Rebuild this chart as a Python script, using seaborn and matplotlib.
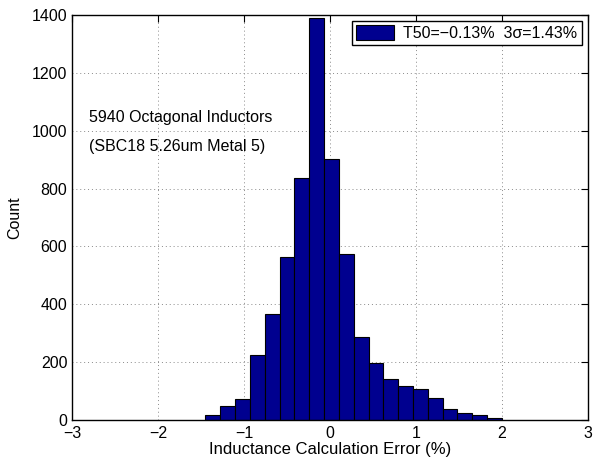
import matplotlib
matplotlib.use("Agg")
import matplotlib.pyplot as plt
import numpy as np
import pandas as pd
import seaborn as sns

# histogram data (20 bins between min and max error)
err_min, err_max, n_bins = -1.45, 2.0, 20
bin_counts = [18, 47, 72, 225, 368, 562, 836, 1388, 902, 575,
              288, 196, 141, 117, 106, 75, 39, 25, 16, 8]
x_ticks = [-3, -2, -1, 0, 1, 2, 3]
y_ticks = [0, 200, 400, 600, 800, 1000, 1200, 1400]
legend_label = "T50=\u22120.13%  3\u03c3=1.43%"
note_lines = ["5940 Octagonal Inductors", "(SBC18 5.26um Metal 5)"]

sns.set_style("white")
plt.rcParams["font.family"] = ["Liberation Sans", "DejaVu Sans"]
plt.rcParams["text.color"] = "black"
plt.rcParams["axes.labelcolor"] = "black"

edges = np.linspace(err_min, err_max, n_bins + 1)
df = pd.DataFrame({
	"err": (edges[:-1] + edges[1:]) / 2,
	"count": bin_counts,
})

fig = plt.figure(figsize=(5.96, 4.61), dpi=100)
ax = fig.add_axes([0.121, 0.089, 0.8655, 0.8785])

sns.histplot(
	data=df,
	x="err",
	weights="count",
	bins=n_bins,
	binrange=(err_min, err_max),
	color="#00008F",
	edgecolor="black",
	linewidth=0.8,
	alpha=1.0,
	label=legend_label,
	ax=ax,
)

ax.set_xlim(-3, 3)
ax.set_ylim(0, 1400)
ax.set_xticks(x_ticks)
ax.set_yticks(y_ticks)
ax.grid(True, linestyle=(0, (1, 3)), color="#8a8a8a", linewidth=0.7)
ax.set_axisbelow(True)
ax.tick_params(direction="in", top=True, right=True, length=5, labelsize=11.5, colors="black")
ax.tick_params(axis="x", pad=4)
for s in ax.spines.values():
	s.set_color("black")
	s.set_linewidth(1.0)

ax.set_xlabel("Inductance Calculation Error (%)", fontsize=12, labelpad=1)
ax.set_ylabel("Count", fontsize=11.5, labelpad=7)

ax.text(-2.8, 1045, note_lines[0], fontsize=11.5, va="center", ha="left")
ax.text(-2.8, 945, note_lines[1], fontsize=11.5, va="center", ha="left")

leg = ax.legend(
	loc="upper right",
	fontsize=11.5,
	frameon=True,
	fancybox=False,
	framealpha=1,
	edgecolor="black",
	handlelength=2.4,
	handleheight=1.0,
	handletextpad=0.6,
	borderpad=0.25,
	borderaxespad=0.4,
)
leg.get_frame().set_linewidth(1.0)

fig.savefig("out.png", dpi=100)
